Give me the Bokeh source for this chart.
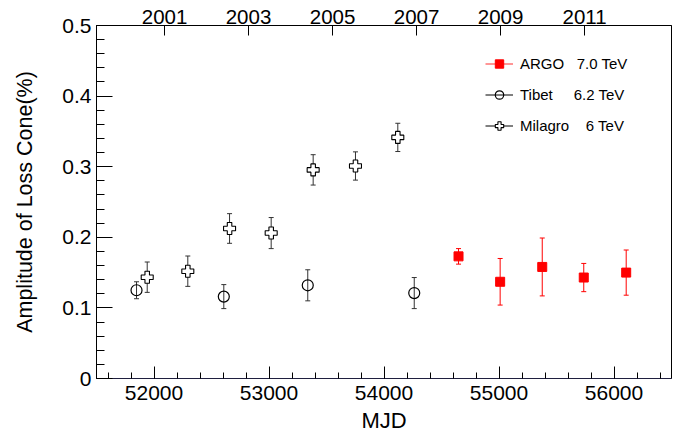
import numpy as np
from bokeh.plotting import figure
from bokeh.models import (ColumnDataSource, Whisker, TeeHead, LinearAxis, FixedTicker,
                          SingleIntervalTicker, Legend, LegendItem, Range1d)
from bokeh.embed import file_html
from bokeh.resources import INLINE

# ---------------- data ----------------
argo_mjd = [54648, 55010, 55376, 55737, 56106]
argo_amp = [0.173, 0.137, 0.158, 0.143, 0.150]
argo_err = [0.011, 0.033, 0.041, 0.020, 0.032]

tibet_mjd = [51848, 52607, 53337, 54263]
tibet_amp = [0.125, 0.116, 0.132, 0.121]
tibet_err = [0.012, 0.017, 0.022, 0.022]

milagro_mjd = [51941, 52294, 52657, 53019, 53384, 53752, 54120]
milagro_amp = [0.1435, 0.152, 0.2125, 0.206, 0.2955, 0.301, 0.3415]
milagro_err = [0.0215, 0.0215, 0.021, 0.022, 0.0215, 0.020, 0.020]

year_ticks_mjd = [52092, 52822, 53553, 54283, 55014, 55744]
year_labels = ["2001", "2003", "2005", "2007", "2009", "2011"]

y_ticks = [0.0, 0.1, 0.2, 0.3, 0.4, 0.5]
y_tick_labels = ["0", "0.1", "0.2", "0.3", "0.4", "0.5"]

legend_labels = ["ARGO\u00a0\u00a0\u00a07.0 TeV",
                 "Tibet\u00a0\u00a0\u00a0\u00a0\u00a06.2 TeV",
                 "Milagro\u00a0\u00a0\u00a0\u00a06 TeV"]

FONT = "Liberation Sans"


def make_src(x, y, e):
    y = np.asarray(y, dtype=float)
    e = np.asarray(e, dtype=float)
    return ColumnDataSource(dict(x=list(x), y=list(y), lo=list(y - e), hi=list(y + e)))


argo_src = make_src(argo_mjd, argo_amp, argo_err)
tibet_src = make_src(tibet_mjd, tibet_amp, tibet_err)
mil_src = make_src(milagro_mjd, milagro_amp, milagro_err)

p = figure(width=690, height=439,
           x_range=Range1d(51500, 56500), y_range=Range1d(0, 0.5),
           output_backend="svg", toolbar_location=None,
           x_axis_label="MJD", y_axis_label="Amplitude of Loss Cone(%)")
p.min_border_left = 96
p.min_border_right = 19
p.min_border_top = 25
p.min_border_bottom = 61
p.outline_line_color = "black"
p.outline_line_width = 1
p.xgrid.visible = False
p.ygrid.visible = False
p.background_fill_color = "white"
p.border_fill_color = "white"

# bottom axis
xa = p.xaxis[0]
xa.ticker = SingleIntervalTicker(interval=1000, num_minor_ticks=5)
xa.major_tick_in = 12
xa.major_tick_out = 0
xa.minor_tick_in = 6
xa.minor_tick_out = 0
xa.axis_line_color = "#1f1f3f"
xa.major_tick_line_color = "black"
xa.minor_tick_line_color = "black"
xa.major_label_standoff = 7
xa.major_label_text_font = FONT
xa.major_label_text_font_size = "21px"
xa.major_label_text_color = "black"
xa.axis_label_text_font = FONT
xa.axis_label_text_font_size = "22px"
xa.axis_label_text_font_style = "normal"
xa.axis_label_text_color = "black"
xa.axis_label_standoff = 5

# left axis
ya = p.yaxis[0]
ya.ticker = FixedTicker(ticks=y_ticks, minor_ticks=[i * 0.02 for i in range(26)])
ya.major_label_overrides = dict(zip(y_ticks, y_tick_labels))
ya.major_tick_in = 16
ya.major_tick_out = 0
ya.minor_tick_in = 8
ya.minor_tick_out = 0
ya.axis_line_color = "black"
ya.major_label_standoff = 5
ya.major_label_text_font = FONT
ya.major_label_text_font_size = "21px"
ya.major_label_text_color = "black"
ya.axis_label_text_font = FONT
ya.axis_label_text_font_size = "21.5px"
ya.axis_label_text_font_style = "normal"
ya.axis_label_text_color = "black"
ya.axis_label_standoff = 22

# top axis with years
top = LinearAxis(ticker=FixedTicker(ticks=year_ticks_mjd, minor_ticks=[]),
                 major_label_overrides=dict(zip(year_ticks_mjd, year_labels)))
top.major_tick_in = 10
top.major_tick_out = 0
top.minor_tick_in = 0
top.minor_tick_out = 0
top.axis_line_color = "black"
top.major_label_standoff = 2
top.major_label_text_font = FONT
top.major_label_text_font_size = "20.5px"
top.major_label_text_color = "black"
p.add_layout(top, "above")

# error bars
for src, col in ((tibet_src, "#333333"), (mil_src, "#333333"), (argo_src, "red")):
    w = Whisker(source=src, base="x", upper="hi", lower="lo", dimension="height",
                line_color=col, line_width=1,
                upper_head=TeeHead(size=5, line_color=col, line_width=1),
                lower_head=TeeHead(size=5, line_color=col, line_width=1))
    p.add_layout(w)

# markers
tib_r = p.scatter("x", "y", source=tibet_src, marker="circle", size=11,
                  fill_alpha=0, line_color="black", line_width=1.2)
mil_r = p.scatter("x", "y", source=mil_src, marker="plus", size=12,
                  fill_color="white", line_color="black", line_width=1.1)
argo_r = p.scatter("x", "y", source=argo_src, marker="square", size=9,
                   fill_color="red", line_color="red", line_width=1)

# legend line stubs (no visible data, only drawn in the legend)
argo_l = p.line(x=[np.nan], y=[np.nan], line_color="#ff5050", line_width=1.2)
tib_l = p.line(x=[np.nan], y=[np.nan], line_color="black", line_width=1)
mil_l = p.line(x=[np.nan], y=[np.nan], line_color="black", line_width=1)

legend = Legend(items=[LegendItem(label=legend_labels[0], renderers=[argo_l, argo_r]),
                       LegendItem(label=legend_labels[1], renderers=[tib_l, tib_r]),
                       LegendItem(label=legend_labels[2], renderers=[mil_l, mil_r])],
                location=(389, 242), padding=0, margin=0, spacing=10,
                glyph_width=28, glyph_height=21, label_height=21, label_standoff=7,
                label_text_font=FONT, label_text_font_size="15px", label_text_color="black",
                border_line_alpha=0, background_fill_alpha=0)
p.add_layout(legend)

open("out.html", "w").write(file_html(p, INLINE))
